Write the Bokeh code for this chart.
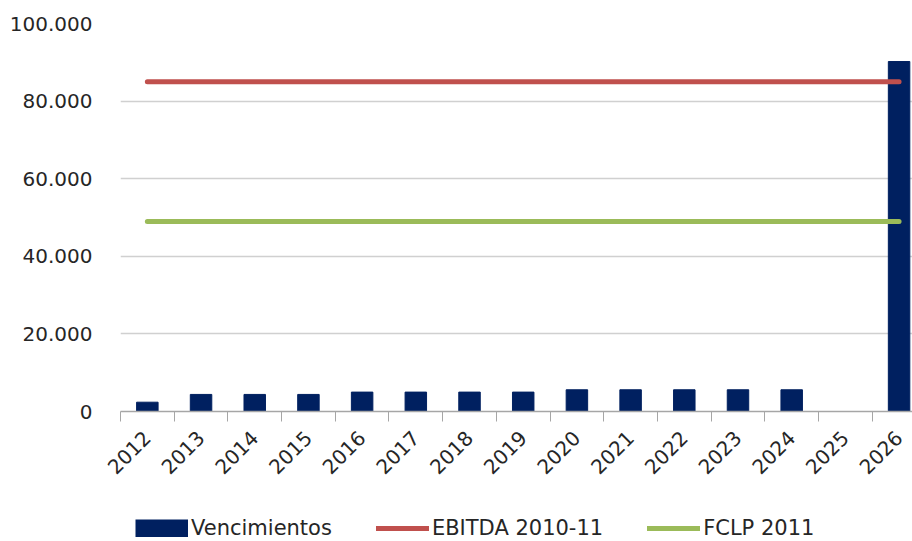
import math
from bokeh.plotting import figure
from bokeh.layouts import column
from bokeh.models import Range1d, FixedTicker, Legend, LegendItem
from bokeh.embed import file_html
from bokeh.resources import INLINE

years = ["2012", "2013", "2014", "2015", "2016", "2017", "2018", "2019",
         "2020", "2021", "2022", "2023", "2024", "2025", "2026"]
vencimientos = [2400, 4400, 4400, 4400, 5000, 5000, 5000, 5000,
                5600, 5600, 5600, 5600, 5600, 0, 90200]
ebitda = [85000, 85000, 85000, 85000, 85000, 85000, 85000, 85000,
          85000, 85000, 85000, 85000, 85000, 85000, 85000]
fclp = [49000, 49000, 49000, 49000, 49000, 49000, 49000, 49000,
        49000, 49000, 49000, 49000, 49000, 49000, 49000]
y_ticks = [0, 20000, 40000, 60000, 80000, 100000]
y_tick_labels = ["0", "20.000", "40.000", "60.000", "80.000", "100.000"]
series_names = ["Vencimientos", "EBITDA 2010-11", "FCLP 2011"]

xs = list(range(len(years)))
FONT = "DejaVu Sans"
TXT = "#262626"
NAVY = "#002060"
RED = "#c0504d"
GREEN = "#9bbb59"

p = figure(frame_width=792, frame_height=388, output_backend="svg",
           toolbar_location=None, x_range=Range1d(-0.5, 14.25),
           y_range=Range1d(0, 100000),
           min_border_left=120, min_border_top=23, min_border_right=0,
           min_border_bottom=90)
p.outline_line_color = None
p.background_fill_color = "white"

p.vbar(x=xs, top=vencimientos, width=0.4, bottom=0,
       fill_color=NAVY, line_color=NAVY)
p.line(x=xs, y=ebitda, line_color=RED, line_width=5, line_cap="round")
p.line(x=xs, y=fclp, line_color=GREEN, line_width=5, line_cap="round")

# x axis
p.xaxis.ticker = FixedTicker(ticks=xs, minor_ticks=[x - 0.5 for x in xs] + [xs[-1] + 0.5])
p.xaxis.major_label_overrides = {x: y for x, y in zip(xs, years)}
p.xaxis.major_tick_line_color = None
p.xaxis.minor_tick_line_color = "#a6a6a6"
p.xaxis.minor_tick_in = 0
p.xaxis.minor_tick_out = 10
p.xaxis.axis_line_color = "#a6a6a6"
p.xaxis.axis_line_width = 1.5
p.xaxis.major_label_orientation = math.pi / 4
p.xaxis.major_label_standoff = 13
p.xaxis.major_label_text_font = FONT
p.xaxis.major_label_text_font_size = "20px"
p.xaxis.major_label_text_color = TXT

# y axis
p.yaxis.ticker = FixedTicker(ticks=y_ticks, minor_ticks=[])
p.yaxis.major_label_overrides = {t: s for t, s in zip(y_ticks, y_tick_labels)}
p.yaxis.axis_line_color = None
p.yaxis.major_tick_line_color = None
p.yaxis.minor_tick_line_color = None
p.yaxis.major_label_standoff = 22
p.yaxis.major_label_text_font = FONT
p.yaxis.major_label_text_font_size = "20px"
p.yaxis.major_label_text_color = TXT

p.xgrid.grid_line_color = None
p.ygrid.ticker = FixedTicker(ticks=y_ticks)
p.ygrid.grid_line_color = "#d0d0d0"
p.ygrid.grid_line_width = 1.5

# legend strip (separate figure below the chart); its ranges keep the
# swatch renderers out of view so that only the legend shows
lf = figure(width=912, height=40, output_backend="svg", toolbar_location=None,
            x_range=Range1d(-10, -9), y_range=Range1d(-10, -9),
            x_axis_location=None, y_axis_location=None,
            min_border=0)
lf.outline_line_color = None
lf.xgrid.visible = False
lf.ygrid.visible = False
r0 = lf.line(x=xs, y=vencimientos, line_color=NAVY, line_width=18, line_cap="butt")
r1 = lf.line(x=xs, y=ebitda, line_color=RED, line_width=5, line_cap="round")
r2 = lf.line(x=xs, y=fclp, line_color=GREEN, line_width=5, line_cap="round")

legend = Legend(items=[
    LegendItem(label=series_names[0], renderers=[r0]),
    LegendItem(label=series_names[1], renderers=[r1]),
    LegendItem(label=series_names[2], renderers=[r2]),
], orientation="horizontal", location=(15, 1))
legend.border_line_color = None
legend.background_fill_alpha = 0
legend.label_text_font = FONT
legend.label_text_font_size = "21px"
legend.label_text_color = TXT
legend.glyph_width = 53
legend.glyph_height = 18
legend.label_standoff = 3
legend.spacing = 44
legend.padding = 0
legend.margin = 0
legend.label_height = 18
lf.add_layout(legend, "center")

layout = column(p, lf, spacing=0)
open("out.html", "w").write(file_html(layout, INLINE))
